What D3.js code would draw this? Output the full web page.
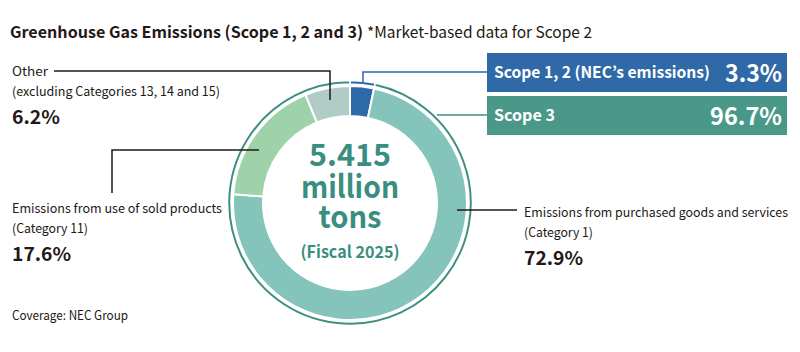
<!DOCTYPE html>
<html>
<head>
<meta charset="utf-8">
<script src="https://cdn.jsdelivr.net/npm/d3@7"></script>
<style>
  body { margin: 0; background: #fff; }
  svg text { font-family: "Noto Sans CJK JP", "Noto Sans", sans-serif; fill: #231815; }
</style>
</head>
<body>
<div class="chart"></div>
<script>
const WIDTH = 800;
const HEIGHT = 352;

const CX = 350;
const CY = 203;

// inner donut: categories of emissions (share, %)
var categories = ["Scope 1, 2", "Category 1", "Category 11", "Other"];
var shares = [3.3, 72.9, 17.6, 6.2];
var colors = ["#2d68a9", "#84c4bb", "#9ed3a9", "#b1cbc6"];

// outer ring: scope split
var scopes = ["Scope 1, 2 (NEC\u2019s emissions)", "Scope 3"];
var scopeShares = [3.3, 96.7];
var scopeLabels = ["3.3%", "96.7%"];
var scopeColors = ["#2d68a9", "#3e8f80"];
var boxColors = ["#2f69a8", "#4a9888"];

var translate = function (x, y) {
    return "translate(" + x + "," + y + ")";
};

var svg = d3.select('.chart').append('svg')
    .attr('width', WIDTH)
    .attr('height', HEIGHT);

// title
svg.append('text')
    .attr('x', 10).attr('y', 38)
    .attr('font-size', 16)
    .attr('font-weight', 'bold')
    .attr('textLength', 353)
    .attr('lengthAdjust', 'spacingAndGlyphs')
    .text('Greenhouse Gas Emissions (Scope 1, 2 and 3)');
svg.append('text')
    .attr('x', 367).attr('y', 38)
    .attr('font-size', 15.5)
    .attr('textLength', 225)
    .attr('lengthAdjust', 'spacingAndGlyphs')
    .text('*Market-based data for Scope 2');

var g = svg.append('g').attr('transform', translate(CX, CY));

var pie = d3.pie().sort(null).value(function (d) { return d; });

var innerArc = d3.arc().innerRadius(87).outerRadius(117);
g.selectAll('path.inner').data(pie(shares))
    .enter().append('path')
    .attr('class', 'inner')
    .attr('d', innerArc)
    .attr('fill', function (d, i) { return colors[i]; })
    .attr('stroke', '#fff')
    .attr('stroke-width', 2);

var outerArc = d3.arc().innerRadius(119).outerRadius(122.5);
g.selectAll('path.outer').data(pie(scopeShares))
    .enter().append('path')
    .attr('class', 'outer')
    .attr('d', outerArc)
    .attr('fill', function (d, i) { return scopeColors[i]; })
    .attr('stroke', '#fff')
    .attr('stroke-width', 1.5);

// centre text: [text, baseline, size, width]
var centre = [["5.415", 166, 31, 82], ["million", 198, 31, 98], ["tons", 228, 31, 63], ["(Fiscal 2025)", 258, 16.5, 99]];
centre.forEach(function (c) {
    g.append('text')
        .attr('x', 0)
        .attr('y', c[1] - CY)
        .attr('text-anchor', 'middle')
        .attr('font-size', c[2])
        .attr('font-weight', 'bold')
        .attr('textLength', c[3])
        .attr('lengthAdjust', 'spacingAndGlyphs')
        .style('fill', '#3a8e7f')
        .text(c[0]);
});

// scope boxes
var boxY = [53, 96];
var boxTextW = [216, 61];
var boxPctW = [57, 72];
scopes.forEach(function (s, i) {
    svg.append('rect')
        .attr('x', 487).attr('y', boxY[i])
        .attr('width', 300).attr('height', 39)
        .attr('fill', boxColors[i]);
    svg.append('text')
        .attr('x', 494).attr('y', boxY[i] + 25)
        .attr('font-size', 15.5).attr('font-weight', 'bold')
        .attr('textLength', boxTextW[i])
        .attr('lengthAdjust', 'spacingAndGlyphs')
        .style('fill', '#fff')
        .text(s);
    svg.append('text')
        .attr('x', 782 - boxPctW[i]).attr('y', boxY[i] + 29)
        .attr('font-size', 24).attr('font-weight', 'bold')
        .attr('textLength', boxPctW[i])
        .attr('lengthAdjust', 'spacingAndGlyphs')
        .style('fill', '#fff')
        .text(scopeLabels[i]);
});

// leader lines
var line = d3.line();
var leaders = [
    [[[363, 82], [363, 72], [487, 72]], '#2d68a9'],
    [[[437, 115], [487, 115]], '#3e8f80'],
    [[[54, 71], [330, 71], [330, 100]], '#231815'],
    [[[112, 193], [112, 150], [259, 150]], '#231815'],
    [[[457, 210], [517, 210]], '#231815']
];
leaders.forEach(function (l) {
    svg.append('path')
        .attr('d', line(l[0]))
        .attr('fill', 'none')
        .attr('stroke', l[1])
        .attr('stroke-width', 1.5);
});

// category labels: [x, baseline, lines, line widths, percent, percent width]
var labels = [
    [12, 76, ["Other", "(excluding Categories 13, 14 and 15)"], [36, 208], "6.2%", 48],
    [12, 213, ["Emissions from use of sold products", "(Category 11)"], [210, 76], "17.6%", 59],
    [524, 217, ["Emissions from purchased goods and services", "(Category 1)"], [264, 69], "72.9%", 59]
];
labels.forEach(function (l) {
    l[2].forEach(function (t, j) {
        svg.append('text')
            .attr('x', l[0]).attr('y', l[1] + j * 20)
            .attr('font-size', 12.8)
            .attr('textLength', l[3][j])
            .attr('lengthAdjust', 'spacingAndGlyphs')
            .text(t);
    });
    svg.append('text')
        .attr('x', l[0]).attr('y', l[1] + 48)
        .attr('font-size', 19).attr('font-weight', 'bold')
        .attr('textLength', l[5])
        .attr('lengthAdjust', 'spacingAndGlyphs')
        .text(l[4]);
});

svg.append('text')
    .attr('x', 12).attr('y', 320)
    .attr('font-size', 12.5)
    .attr('textLength', 116)
    .attr('lengthAdjust', 'spacingAndGlyphs')
    .text('Coverage: NEC Group');
</script>
</body>
</html>
